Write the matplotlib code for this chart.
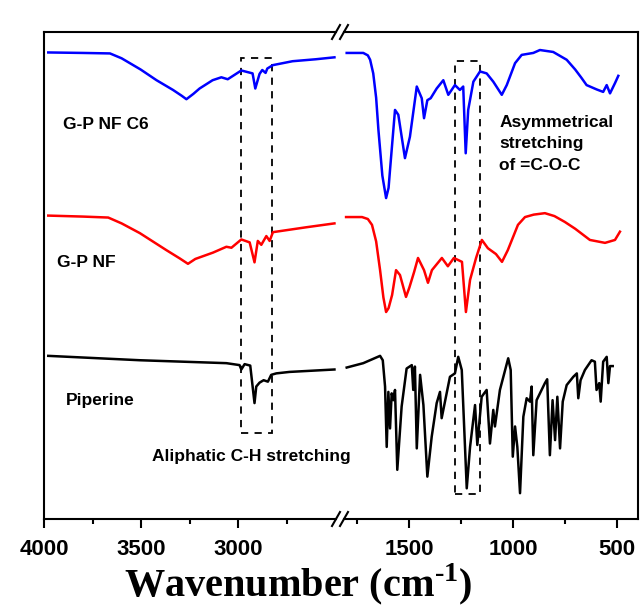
import matplotlib
matplotlib.use('Agg')
import matplotlib.pyplot as plt
from matplotlib.lines import Line2D
from matplotlib.patches import Rectangle

# -- Spectra (wavenumber cm-1, transmittance a.u., stacked) -------------
# high-wavenumber region 4000-2500
nf_c6_hi_wn = [3978, 3800, 3660, 3600, 3502, 3420, 3335, 3290, 3266, 3230, 3198,
               3131, 3086, 3053, 2983, 2925, 2911, 2889, 2875, 2858, 2849, 2820,
               2719, 2600, 2503]
nf_c6_hi_t = [95.8, 95.7, 95.6, 94.6, 92.3, 90.1, 88.1, 86.9, 86.2, 87.3, 88.4,
              90.1, 90.7, 90.3, 92.1, 91.5, 88.4, 91.4, 92.2, 91.6, 92.5, 93.2,
              94.0, 94.4, 94.8]

nf_hi_wn = [3978, 3800, 3669, 3600, 3506, 3369, 3300, 3258, 3220, 3129, 3060,
            3034, 2983, 2940, 2915, 2898, 2880, 2854, 2837, 2820, 2649, 2503]
nf_hi_t = [62.3, 62.1, 61.9, 60.7, 58.7, 55.2, 53.5, 52.4, 53.4, 54.7, 55.9,
           55.7, 57.4, 56.8, 52.7, 57.1, 56.3, 58.1, 57.1, 58.9, 59.9, 60.7]

pip_hi_wn = [3978, 3506, 3060, 2992, 2983, 2966, 2937, 2915, 2906, 2889, 2868,
             2846, 2829, 2803, 2735, 2503]
pip_hi_t = [33.5, 32.6, 32.0, 31.6, 30.7, 31.8, 31.5, 23.8, 27.2, 28.0, 28.5,
            28.2, 29.6, 29.9, 30.2, 30.7]

# fingerprint region 1800-500
nf_c6_lo_wn = [1802, 1722, 1700, 1689, 1674, 1660, 1649, 1630, 1612, 1600, 1593,
               1569, 1553, 1521, 1497, 1464, 1440, 1429, 1413, 1397, 1368, 1336,
               1312, 1280, 1256, 1240, 1228, 1216, 1191, 1159, 1127, 1095, 1054,
               1030, 990, 958, 902, 870, 806, 741, 700, 670, 645, 596, 565, 548,
               532, 508, 492]
nf_c6_lo_t = [95.7, 95.7, 95.2, 94.3, 91.5, 86.5, 79.9, 70.5, 65.9, 68.0, 71.7,
              84.0, 83.0, 74.1, 78.5, 88.8, 86.4, 82.3, 86.0, 86.4, 88.4, 90.1,
              87.1, 89.1, 88.1, 88.8, 75.1, 84.0, 89.8, 91.9, 91.5, 89.8, 87.1,
              89.1, 93.6, 95.3, 95.7, 96.3, 95.9, 94.3, 92.3, 90.6, 89.1, 88.2,
              87.7, 89.1, 87.4, 89.5, 91.0]

nf_lo_wn = [1805, 1728, 1700, 1680, 1660, 1641, 1625, 1612, 1600, 1583, 1564,
            1545, 1516, 1500, 1477, 1458, 1429, 1410, 1391, 1343, 1314, 1285,
            1246, 1227, 1207, 1178, 1150, 1121, 1082, 1053, 1025, 976, 942, 900,
            846, 800, 750, 700, 629, 556, 508, 484]
nf_lo_t = [62.0, 62.0, 61.6, 60.4, 57.0, 51.1, 45.5, 42.5, 43.3, 46.0, 51.1,
           50.1, 45.6, 47.5, 50.7, 53.6, 51.1, 48.5, 51.1, 53.6, 51.9, 53.6,
           52.8, 42.5, 49.1, 53.6, 57.3, 55.6, 54.4, 52.8, 55.2, 60.4, 62.0, 62.5,
           62.8, 62.2, 61.0, 59.6, 57.3, 56.7, 57.3, 59.0]

pip_lo_wn = [1802, 1722, 1641, 1628, 1617, 1609, 1601, 1593, 1585, 1577, 1569,
             1558, 1537, 1513, 1488, 1481, 1473, 1464, 1448, 1432, 1413, 1392,
             1368, 1352, 1344, 1328, 1304, 1280, 1264, 1247, 1223, 1207, 1183,
             1172, 1151, 1127, 1111, 1095, 1087, 1063, 1023, 1011, 1001, 990, 979,
             966, 950, 934, 918, 910, 902, 886, 870, 846, 835, 822, 809, 797, 786,
             773, 760, 741, 709, 692, 685, 674, 653, 621, 605, 597, 584, 577, 565,
             548, 540, 532, 519]
pip_lo_t = [31.1, 32.0, 33.5, 32.6, 27.2, 14.8, 26.1, 18.6, 25.8, 24.4, 26.5,
            10.1, 23.1, 30.9, 31.6, 26.5, 31.3, 14.5, 29.6, 23.4, 8.7, 16.9,
            23.8, 26.1, 20.7, 24.1, 29.2, 29.9, 33.3, 30.6, 6.3, 14.8, 23.4,
            15.2, 25.1, 26.5, 15.5, 22.4, 19.0, 26.5, 33.0, 30.6, 12.8, 19.0, 14.8,
            5.3, 21.0, 24.8, 24.1, 27.2, 13.1, 24.4, 25.8, 27.9, 28.7, 13.1, 24.4,
            16.2, 25.1, 14.5, 24.1, 27.5, 29.2, 29.9, 24.8, 28.5, 30.6, 32.6, 32.3,
            26.5, 27.9, 24.1, 32.3, 33.3, 27.9, 31.4, 31.4]

# -- Style ---------------------------------------------------------------
FONT = 'Liberation Sans'
LW = 1.8
AX_LW = 1.5

plt.rcParams['mathtext.fontset'] = 'custom'
plt.rcParams['mathtext.rm'] = 'Liberation Serif:bold'
plt.rcParams['mathtext.bf'] = 'Liberation Serif:bold'

fig = plt.figure(figsize=(6.42, 6.06), dpi=100)
W, H = 642.0, 606.0

def fx(px):
    return px / W

def fy(py):
    return 1 - py / H

y_bot, y_top = 519, 32
ax1 = fig.add_axes([fx(44), fy(y_bot), fx(336 - 44), (y_bot - y_top) / H])
ax2 = fig.add_axes([fx(344), fy(y_bot), fx(638 - 344), (y_bot - y_top) / H])
ax2.patch.set_visible(False)

ax1.plot(nf_c6_hi_wn, nf_c6_hi_t, color='#0000FF', lw=LW)
ax1.plot(nf_hi_wn, nf_hi_t, color='#FF0000', lw=LW)
ax1.plot(pip_hi_wn, pip_hi_t, color='black', lw=LW)
ax2.plot(nf_c6_lo_wn, nf_c6_lo_t, color='#0000FF', lw=LW)
ax2.plot(nf_lo_wn, nf_lo_t, color='#FF0000', lw=LW)
ax2.plot(pip_lo_wn, pip_lo_t, color='black', lw=LW)

ax1.set_xlim(4000, 2495)
ax2.set_xlim(1815, 397)
for ax in (ax1, ax2):
    ax.set_ylim(0, 100)
    ax.set_yticks([])
    for s in ax.spines.values():
        s.set_linewidth(AX_LW)
    ax.tick_params(axis='x', which='major', direction='out', length=6.5, width=AX_LW, pad=8)
    ax.tick_params(axis='x', which='minor', direction='out', length=3.6, width=AX_LW)
    ax.tick_params(axis='x', which='both', top=False)
ax1.spines['right'].set_visible(False)
ax2.spines['left'].set_visible(False)

ax1.set_xticks([4000, 3500, 3000])
ax1.set_xticks([3750, 3250, 2750], minor=True)
ax2.set_xticks([1500, 1000, 500])
ax2.set_xticks([1750, 1250, 750], minor=True)
for ax in (ax1, ax2):
    for lab in ax.get_xticklabels():
        lab.set_fontfamily(FONT)
        lab.set_fontweight('bold')
        lab.set_fontsize(16)

# dashed boxes around the bands of interest
ax1.add_patch(Rectangle((2985, 17.6), 2825 - 2985, 94.6 - 17.6, fill=False,
                        ls=(0, (4, 3.5)), lw=1.3, ec='black'))
ax2.add_patch(Rectangle((1280, 5.1), 1157 - 1280, 94.0 - 5.1, fill=False,
                        ls=(0, (4, 3.5)), lw=1.3, ec='black'))

# labels
tkw = dict(fontfamily=FONT, fontweight='bold', fontsize=12.5, va='center', ha='left')
ax1.text(3904, 81.1, 'G-P NF C6', **tkw)
ax1.text(3935, 52.6, 'G-P NF', **tkw)
ax1.text(3887, 24.4, 'Piperine', **tkw)
ax1.text(3441, 12.8, 'Aliphatic C-H stretching', clip_on=False, zorder=5, **tkw)
ax2.text(1067, 83.0, 'Asymmetrical\nstretching\nof =C-O-C', fontfamily=FONT,
         fontweight='bold', fontsize=12.5, va='top', ha='left', linespacing=1.55)

# axis break marks
for yb in (y_bot, y_top):
    for x0 in (332, 340):
        fig.add_artist(Line2D([fx(x0), fx(x0 + 8)], [fy(yb + 7), fy(yb - 7)],
                              color='black', lw=AX_LW, transform=fig.transFigure))

fig.text(fx(298), fy(584), 'Wavenumber (cm$^{\u2010\\mathrm{1}}$)',
         fontfamily='Liberation Serif', fontweight='bold', fontsize=29,
         ha='center', va='center')

fig.savefig('out.png', dpi=100, facecolor='white')
